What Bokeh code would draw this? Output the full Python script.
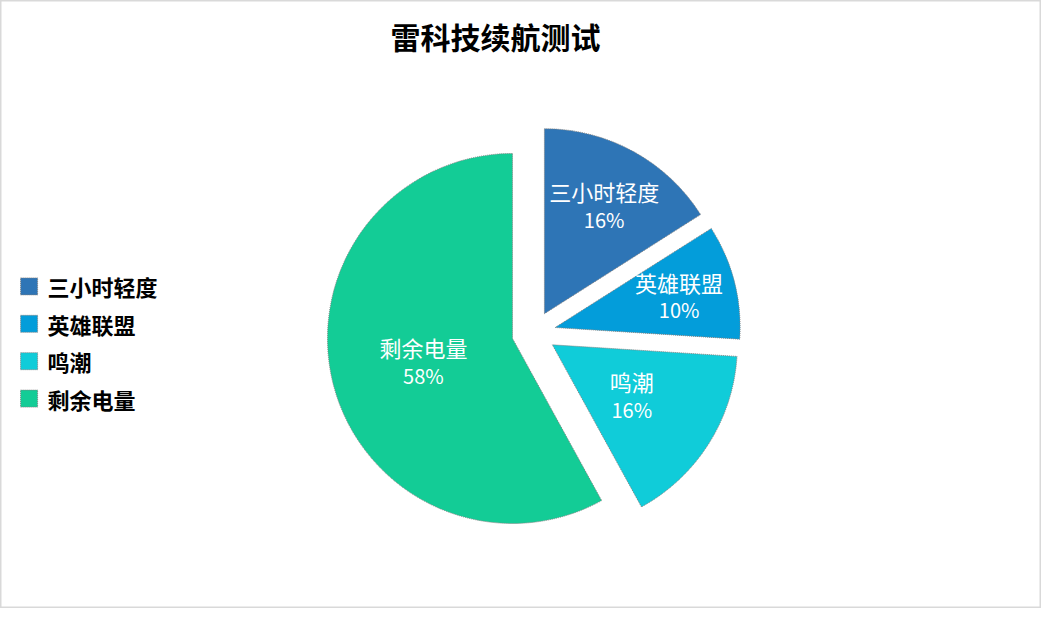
import numpy as np
from bokeh.plotting import figure
from bokeh.models import Range1d, ColumnDataSource
from bokeh.embed import file_html
from bokeh.resources import INLINE
from bokeh.core.properties import value

# ---- data ----
chart_title = "雷科技续航测试"
categories = ["三小时轻度", "英雄联盟", "鸣潮", "剩余电量"]
values = [16, 10, 16, 58]
colors = ["#2E75B6", "#039DDA", "#10CCD9", "#13CC96"]

# ---- layout / style ----
W, H = 1041, 608
cx, cy = 533.3, 275.5
R = 185
explode = 22
label_dist = [124, 128, 94, 92]
FONT = "Noto Sans CJK SC"

vals = np.array(values, dtype=float)
frac = vals / vals.sum()
cum = np.concatenate([[0.0], np.cumsum(frac)])
theta0 = cum[:-1] * 2 * np.pi
theta1 = cum[1:] * 2 * np.pi
mid = (theta0 + theta1) / 2
ox = cx + explode * np.sin(mid)
oy = cy + explode * np.cos(mid)
ld = np.array(label_dist, dtype=float)
lx = ox + ld * np.sin(mid)
ly = oy + ld * np.cos(mid)
pct = [f"{round(f * 100)}%" for f in frac]

src = ColumnDataSource(dict(
    x=ox, y=oy,
    start=np.pi / 2 - theta0, end=np.pi / 2 - theta1,
    color=colors, cat=categories,
    lx=lx, ly_name=ly + 14, ly_pct=ly - 14, pct=pct,
))

p = figure(width=W, height=H, x_range=Range1d(0, W), y_range=Range1d(0, H),
           output_backend="svg", toolbar_location=None, min_border=0)
p.xaxis.visible = False
p.yaxis.visible = False
p.grid.visible = False
p.outline_line_color = "#d9d9d9"
p.outline_line_width = 2
p.background_fill_color = "white"
p.border_fill_color = "white"

p.wedge(x="x", y="y", radius=R, start_angle="start", end_angle="end",
        direction="clock", fill_color="color", line_color="#808080",
        line_dash="1 1", line_width=1, source=src)

p.text(x="lx", y="ly_name", text="cat", source=src, text_align="center",
       text_baseline="middle", text_color="white", text_font=value(FONT),
       text_font_size="22px")
p.text(x="lx", y="ly_pct", text="pct", source=src, text_align="center",
       text_baseline="middle", text_color="white", text_font=value(FONT),
       text_font_size="20px")

# title
p.text(x=[495], y=[573], text=[chart_title], text_align="center",
       text_baseline="middle", text_color="black", text_font=value(FONT),
       text_font_style="bold", text_font_size="30px")

# legend
leg_x = 28.6
leg_y0 = 322.1
leg_step = 37.4
idx = np.arange(len(categories))
leg = ColumnDataSource(dict(
    x=[leg_x] * len(categories),
    y=leg_y0 - idx * leg_step,
    tx=[47] * len(categories),
    color=colors, cat=categories,
))
p.rect(x="x", y="y", width=17, height=17, fill_color="color",
       line_color="#808080", line_dash="1 1", line_width=1, source=leg)
p.text(x="tx", y="y", text="cat", source=leg, text_align="left",
       text_baseline="middle", text_color="black", text_font=value(FONT),
       text_font_style="bold", text_font_size="22px")

open("out.html", "w").write(file_html(p, INLINE))
